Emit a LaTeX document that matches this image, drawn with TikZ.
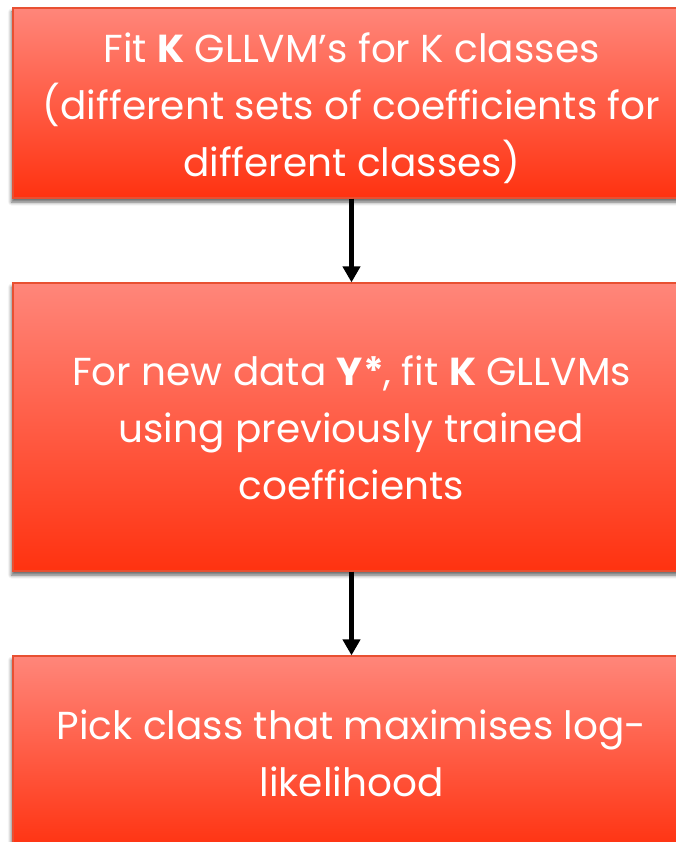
\documentclass[tikz,border=0pt]{standalone}
\usepackage{fontspec}
\setmainfont{Poppins}
\usetikzlibrary{arrows.meta,shadows.blur}
\definecolor{boxtop}{RGB}{255,134,122}
\definecolor{boxbot}{RGB}{255,50,16}
\definecolor{boxedge}{RGB}{232,80,50}
\newcommand{\tstrut}[1]{\rule{0pt}{#1}}
\newcommand{\bstrut}{\rule[-10pt]{0pt}{10pt}}
\tikzset{
  flowbox/.style={rectangle, draw=boxedge, line width=1.2pt,
    top color=boxtop, bottom color=boxbot,
    minimum width=677pt, inner sep=0pt, align=center, text=white,
    font=\fontsize{39}{57}\selectfont,
    blur shadow={shadow xshift=-1.5pt, shadow yshift=-4pt, shadow blur radius=3.5pt, shadow opacity=60}},
  flowarrow/.style={line width=5pt, -{Triangle[width=17pt,length=16pt]}}
}
\begin{document}
\begin{tikzpicture}[x=1pt,y=-1pt]
\useasboundingbox (0,0) rectangle (676,842);
\clip (0,0) rectangle (676,842);
\node[flowbox, minimum height=190pt] (b1) at (351.5,103)
  {\tstrut{44pt}Fit \textbf{K} GLLVM’s for K classes\\(different sets of coefficients for\\different classes)\bstrut};
\node[flowbox, minimum height=288pt] (b2) at (351.5,427)
  {\tstrut{40pt}For new data \textbf{Y*}, fit \textbf{K} GLLVMs\\using previously trained\\coefficients\bstrut};
\node[flowbox, minimum height=194pt] (b3) at (351.5,753)
  {\tstrut{40pt}Pick class that maximises log-\\likelihood\bstrut};
\draw[flowarrow] (b1.south) -- (b2.north);
\draw[flowarrow] (b2.south) -- (b3.north);
\end{tikzpicture}
\end{document}
